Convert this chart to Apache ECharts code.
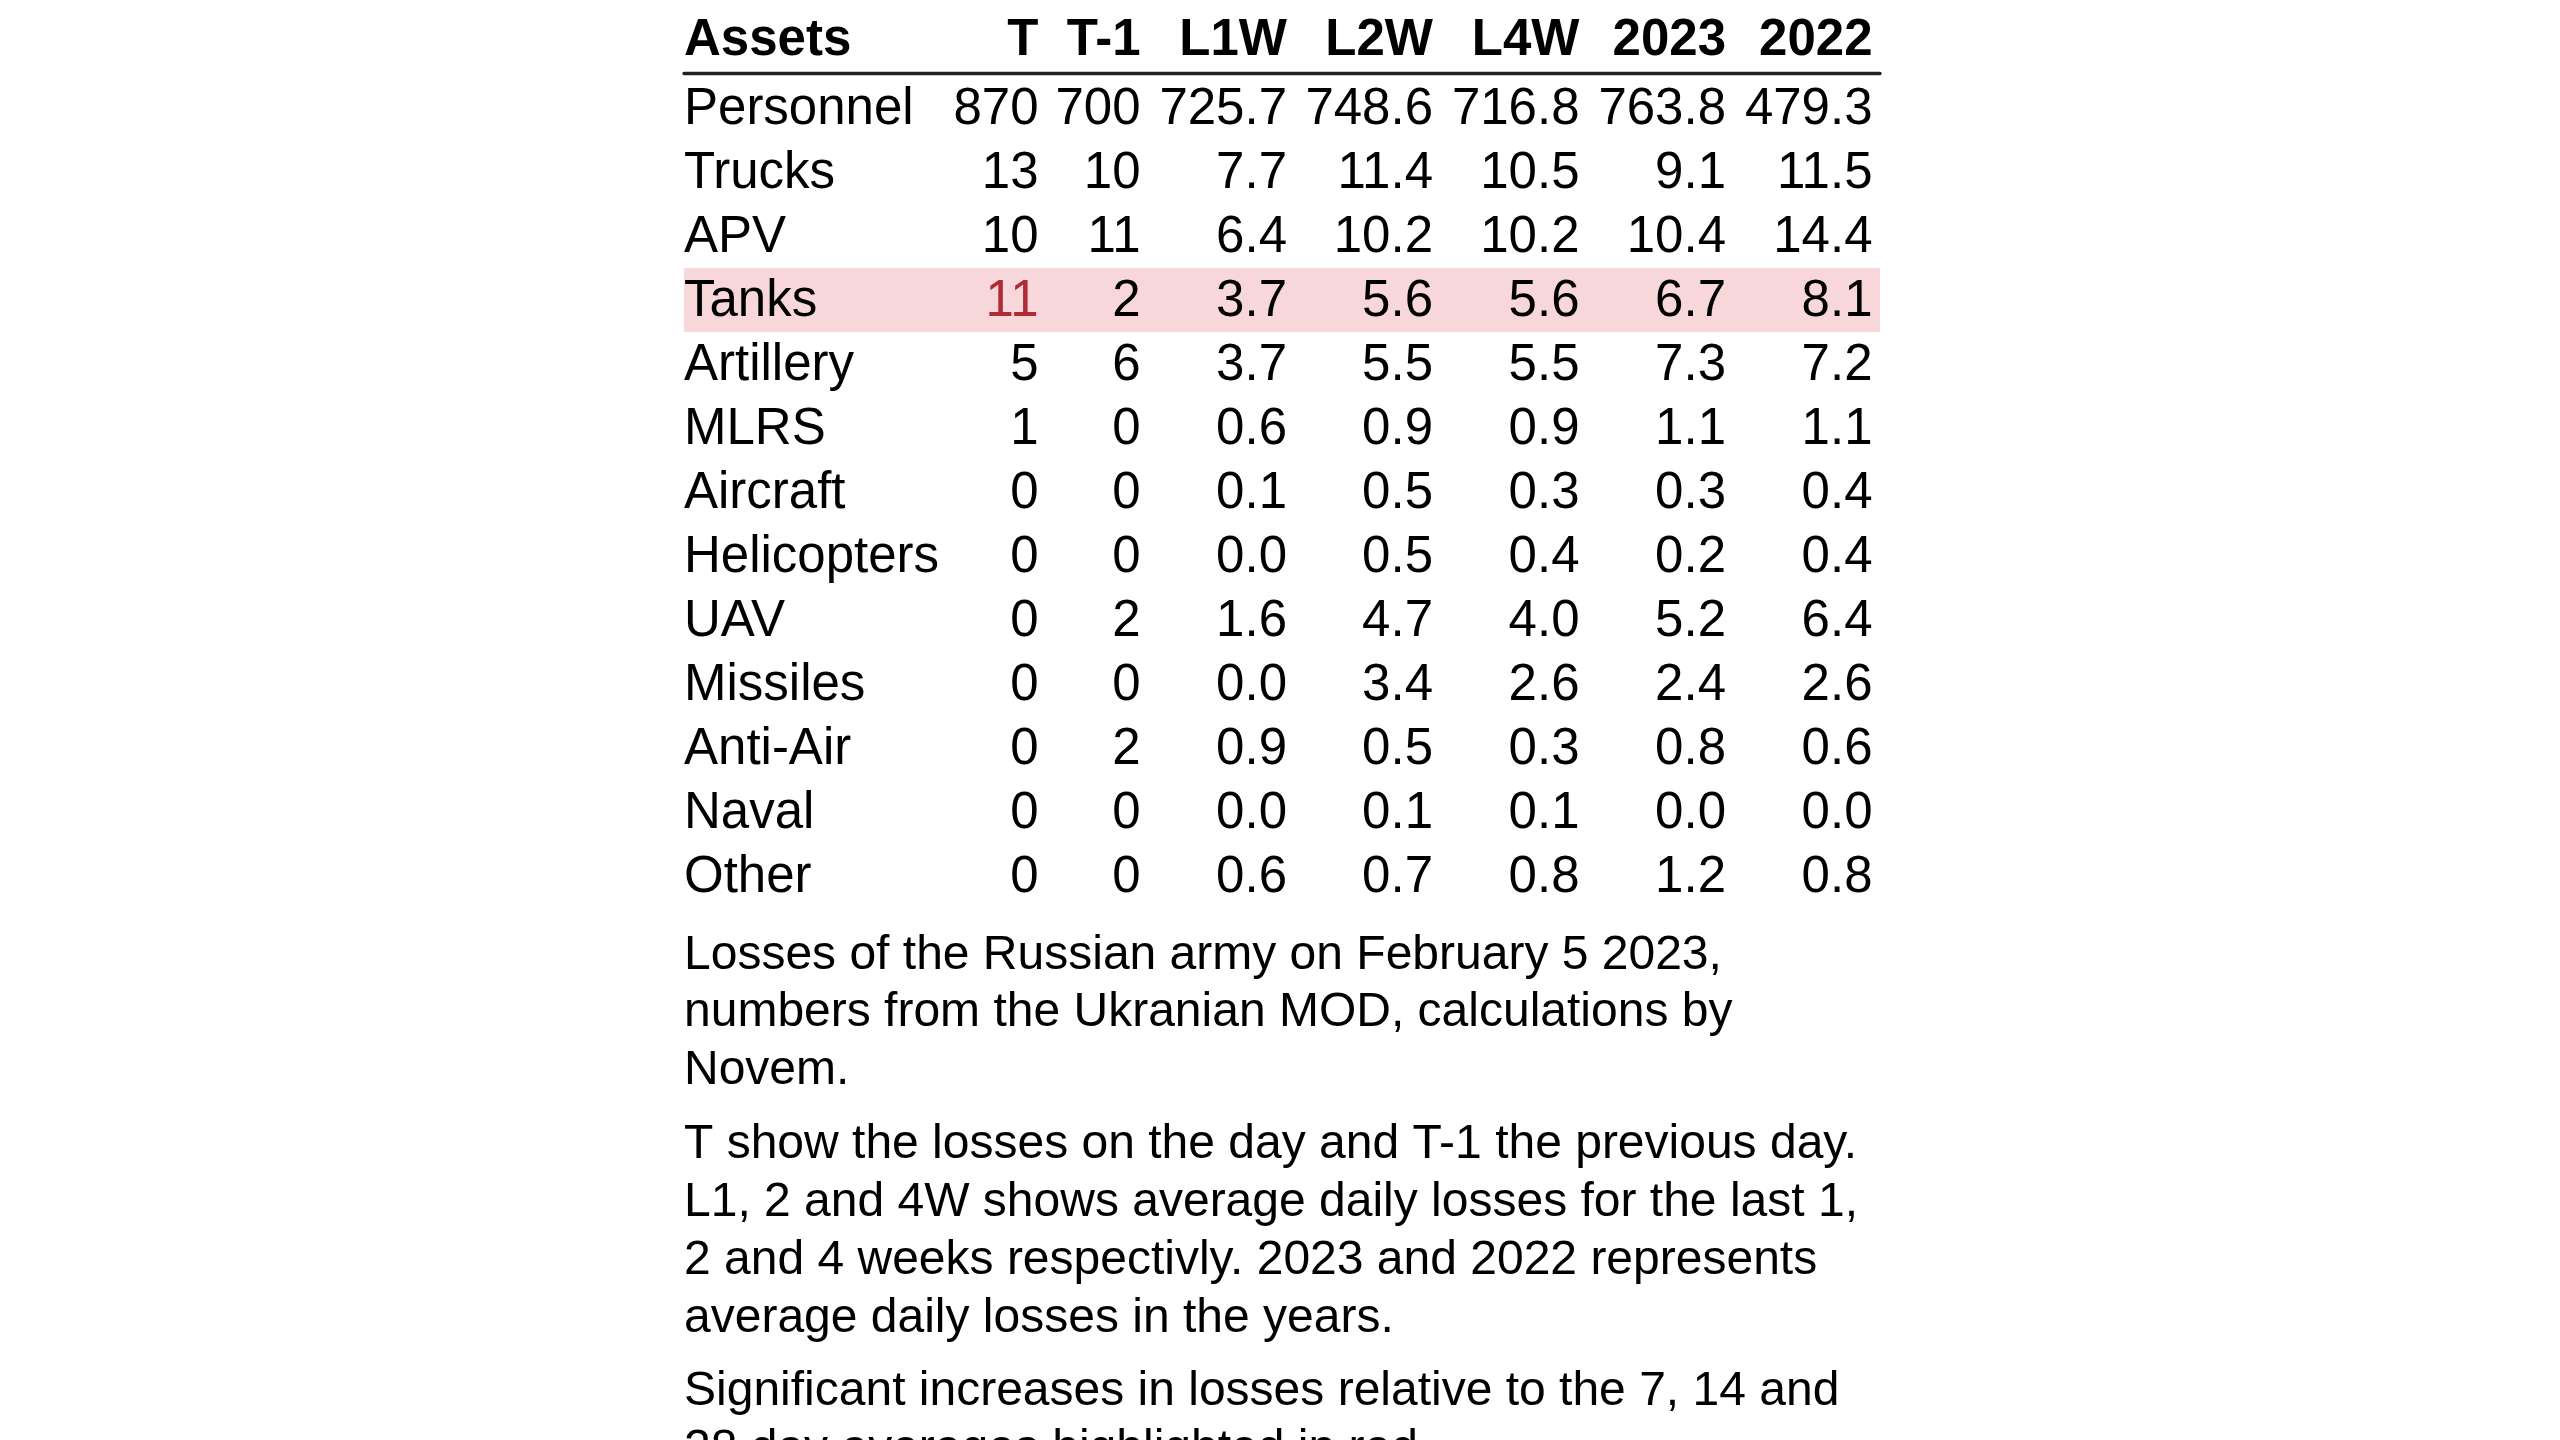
<!DOCTYPE html>
<html>
<head>
<meta charset="utf-8">
<title>Losses of the Russian army</title>
<script src="https://cdn.jsdelivr.net/npm/echarts@6/dist/echarts.min.js"></script>
<style>
  html, body { margin: 0; padding: 0; background: #fff; }
  #chart { width: 2560px; height: 1440px; }
</style>
</head>
<body>
<div id="chart"></div>
<script>
// Table data (daily losses / averages)
const COLUMNS = ['T', 'T-1', 'L1W', 'L2W', 'L4W', '2023', '2022'];
const ASSETS = ['Personnel', 'Trucks', 'APV', 'Tanks', 'Artillery', 'MLRS', 'Aircraft',
    'Helicopters', 'UAV', 'Missiles', 'Anti-Air', 'Naval', 'Other'];
const T_DAY   = [870, 13, 10, 11, 5, 1, 0, 0, 0, 0, 0, 0, 0];
const T_PREV  = [700, 10, 11, 2, 6, 0, 0, 0, 2, 0, 2, 0, 0];
const L1W     = [725.7, 7.7, 6.4, 3.7, 3.7, 0.6, 0.1, 0.0, 1.6, 0.0, 0.9, 0.0, 0.6];
const L2W     = [748.6, 11.4, 10.2, 5.6, 5.5, 0.9, 0.5, 0.5, 4.7, 3.4, 0.5, 0.1, 0.7];
const L4W     = [716.8, 10.5, 10.2, 5.6, 5.5, 0.9, 0.3, 0.4, 4.0, 2.6, 0.3, 0.1, 0.8];
const AVG2023 = [763.8, 9.1, 10.4, 6.7, 7.3, 1.1, 0.3, 0.2, 5.2, 2.4, 0.8, 0.0, 1.2];
const AVG2022 = [479.3, 11.5, 14.4, 8.1, 7.2, 1.1, 0.4, 0.4, 6.4, 2.6, 0.6, 0.0, 0.8];
// rows where the day's losses are a significant increase
const FLAGGED = ['Tanks'];

const NOTES = [
    ['Losses of the Russian army on February 5 2023,',
     'numbers from the Ukranian MOD, calculations by',
     'Novem.'],
    ['T show the losses on the day and T-1 the previous day.',
     'L1, 2 and 4W shows average daily losses for the last 1,',
     '2 and 4 weeks respectivly. 2023 and 2022 represents',
     'average daily losses in the years.'],
    ['Significant increases in losses relative to the 7, 14 and',
     '28 day averages highlighted in red.']
];

// layout
const FONT = '"Liberation Sans", Arial, Helvetica, sans-serif';
const GRID = { left: 684, top: 76, width: 1196, height: 64 * ASSETS.length };
const COL_RIGHT = [354.5, 456.5, 603, 749, 895.5, 1042, 1188.5]; // right edge of each column, from grid left
const COLORS = { text: '#000', flagText: '#b02a37', flagBg: '#f8d7da', rule: '#222' };

const columnsData = [T_DAY, T_PREV, L1W, L2W, L4W, AVG2023, AVG2022];
const fmt = (v, c) => c < 2 ? String(v) : v.toFixed(1);

const renderRow = (params, api) => {
    const i = params.dataIndex;
    const [, y] = api.coord([0, api.value(1)]);
    const bandH = api.size([0, 1])[1];
    const cs = params.coordSys;
    const flagged = FLAGGED.includes(ASSETS[i]);
    const ty = y + 2;
    const children = [];
    if (flagged) {
        children.push({
            type: 'rect',
            shape: { x: cs.x, y: y - bandH / 2, width: cs.width, height: bandH },
            style: { fill: COLORS.flagBg }
        });
    }
    children.push({
        type: 'text',
        style: { text: ASSETS[i], x: cs.x, y: ty, align: 'left', verticalAlign: 'middle',
            font: '51px ' + FONT, fill: COLORS.text }
    });
    columnsData.forEach((col, c) => {
        children.push({
            type: 'text',
            style: {
                text: fmt(col[i], c), x: cs.x + COL_RIGHT[c], y: ty,
                align: 'right', verticalAlign: 'middle', font: '51px ' + FONT,
                fill: flagged && c === 0 ? COLORS.flagText : COLORS.text
            }
        });
    });
    return { type: 'group', children };
};

const HEADER_Y = 41;
const headerGraphics = [{
    type: 'text', x: GRID.left, y: HEADER_Y, z: 10,
    style: { text: 'Assets', font: 'bold 51px ' + FONT, fill: COLORS.text, align: 'left', verticalAlign: 'middle' }
}].concat(COLUMNS.map((name, c) => ({
    type: 'text', x: GRID.left + COL_RIGHT[c], y: HEADER_Y, z: 10,
    style: { text: name, font: 'bold 51px ' + FONT, fill: COLORS.text, align: 'right', verticalAlign: 'middle' }
})));

const noteTops = [926.5, 1116, 1363];
const noteGraphics = NOTES.map((lines, k) => ({
    type: 'text', x: GRID.left, y: noteTops[k], z: 10,
    style: { text: lines.join('\n'), font: '48px ' + FONT, lineHeight: 57.8,
        fill: COLORS.text, align: 'left', verticalAlign: 'top' }
}));

const chart = echarts.init(document.getElementById('chart'), null, { renderer: 'canvas' });
chart.setOption({
    animation: false,
    backgroundColor: '#fff',
    grid: { ...GRID, containLabel: false },
    xAxis: {
        type: 'value', min: 0, max: GRID.width, position: 'top', offset: 2.5,
        axisLine: { show: true, lineStyle: { color: COLORS.rule, width: 3.3 } },
        axisTick: { show: false }, axisLabel: { show: false }, splitLine: { show: false }
    },
    yAxis: {
        type: 'category', data: ASSETS, inverse: true, show: false
    },
    series: [{
        type: 'custom',
        renderItem: renderRow,
        data: ASSETS.map(a => [0, a]),
        encode: { x: 0, y: 1 },
        silent: true
    }],
    graphic: headerGraphics.concat(noteGraphics)
});

window.addEventListener('resize', () => chart.resize());
</script>
</body>
</html>
